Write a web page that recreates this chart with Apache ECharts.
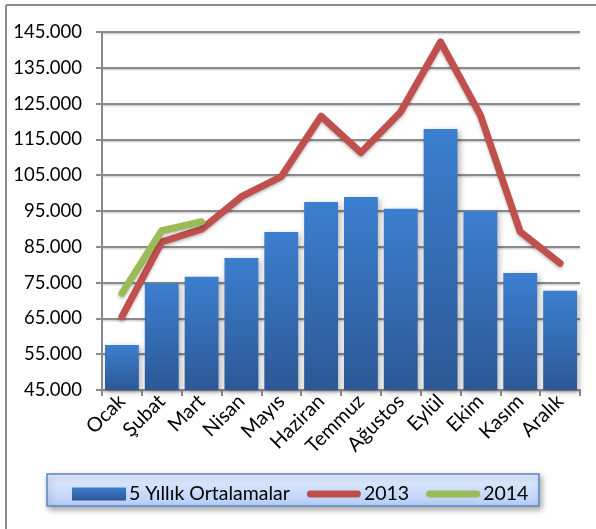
<!DOCTYPE html>
<html>
<head>
<meta charset="utf-8">
<script src="https://cdn.jsdelivr.net/npm/echarts@6/dist/echarts.min.js"></script>
<style>
  html, body { margin: 0; padding: 0; background: #fff; }
  #chart { width: 596px; height: 529px; }
</style>
</head>
<body>
<div id="chart"></div>
<script>
var months = ['Ocak', 'Şubat', 'Mart', 'Nisan', 'Mayıs', 'Haziran', 'Temmuz', 'Ağustos', 'Eylül', 'Ekim', 'Kasım', 'Aralık'];
var avg5 = [57600, 74800, 76600, 81900, 89100, 97500, 98900, 95600, 117900, 95000, 77700, 72700];
var y2013 = [65500, 86400, 89900, 99000, 104600, 121500, 111300, 122700, 142200, 121800, 89200, 80400];
var y2014 = [72000, 89500, 92000];
var yTicks = [45000, 145000, 10000]; // min, max, step

var font = 'Lato, "Open Sans", sans-serif';
// thick rounded bar used as legend icon for the line series
var lineIcon = 'path://M3.5,3L51.5,3A3.5,3.5 0 0 1 51.5,10L3.5,10A3.5,3.5 0 0 1 3.5,3Z';

function fmt(v) {
    // 145000 -> 145.000
    return String(v).replace(/\B(?=(\d{3})+(?!\d))/g, '.');
}

var chart = echarts.init(document.getElementById('chart'));

var option = {
    animation: false,
    textStyle: { fontFamily: font },
    grid: {
        left: 102,
        right: 16,
        top: 32,
        bottom: 139
    },
    graphic: [
        // outer frame (top + left edge)
        { type: 'line', shape: { x1: 6, y1: 5, x2: 596, y2: 5 }, style: { stroke: '#8c8c8c', lineWidth: 2 } },
        { type: 'line', shape: { x1: 6, y1: 5, x2: 6, y2: 529 }, style: { stroke: '#8c8c8c', lineWidth: 2 } },
        // legend box
        {
            type: 'rect',
            z: 1,
            shape: { x: 47, y: 474, width: 492, height: 32 },
            style: {
                fill: new echarts.graphic.LinearGradient(0, 0, 0, 1, [
                    { offset: 0, color: '#e6efff' },
                    { offset: 1, color: '#b4cdf7' }
                ]),
                stroke: '#5b86c5',
                lineWidth: 1.5,
                shadowBlur: 6,
                shadowOffsetX: 2,
                shadowOffsetY: 3,
                shadowColor: 'rgba(0,0,0,0.35)'
            }
        }
    ],
    legend: {
        left: 67,
        top: 479,
        z: 5,
        itemWidth: 54,
        itemHeight: 13,
        itemGap: 17,
        textStyle: { fontSize: 19.5, color: '#000', padding: [0, 0, 0, -2] },
        data: [
            { name: '5 Yıllık Ortalamalar', icon: 'rect' },
            { name: '2013', icon: lineIcon, itemStyle: { color: '#c0504d' } },
            { name: '2014', icon: lineIcon, itemStyle: { color: '#9bbb59' } }
        ]
    },
    xAxis: {
        type: 'category',
        data: months,
        boundaryGap: true,
        axisLine: { lineStyle: { color: '#8a8a8a', width: 2 } },
        axisTick: { show: true, length: 6, lineStyle: { color: '#8a8a8a', width: 2 } },
        axisLabel: {
            rotate: 45,
            fontSize: 20,
            color: '#000',
            margin: 8,
            interval: 0
        }
    },
    yAxis: {
        type: 'value',
        min: yTicks[0],
        max: yTicks[1],
        interval: yTicks[2],
        axisLine: { show: true, lineStyle: { color: '#8a8a8a', width: 2 } },
        axisTick: { show: true, length: 6, lineStyle: { color: '#8a8a8a', width: 2 } },
        axisLabel: {
            fontSize: 18.5,
            color: '#000',
            margin: 20,
            formatter: fmt
        },
        splitLine: {
            lineStyle: {
                color: '#8a8a8a',
                width: 2,
                shadowBlur: 2,
                shadowOffsetY: 1,
                shadowColor: 'rgba(0,0,0,0.25)'
            }
        }
    },
    series: [
        {
            name: '5 Yıllık Ortalamalar',
            type: 'bar',
            barWidth: '85%',
            data: avg5,
            itemStyle: {
                color: new echarts.graphic.LinearGradient(0, 0, 0, 1, [
                    { offset: 0, color: '#3c7fcf' },
                    { offset: 1, color: '#2c5895' }
                ]),
                shadowBlur: 6,
                shadowOffsetX: 2,
                shadowOffsetY: 2,
                shadowColor: 'rgba(0,0,0,0.3)'
            }
        },
        {
            name: '2013',
            type: 'line',
            data: y2013,
            symbol: 'none',
            z: 3,
            itemStyle: { color: '#c0504d' },
            lineStyle: {
                color: '#c0504d',
                width: 7,
                cap: 'round',
                join: 'round',
                shadowBlur: 3,
                shadowOffsetY: 2,
                shadowColor: 'rgba(0,0,0,0.25)'
            }
        },
        {
            name: '2014',
            type: 'line',
            data: y2014,
            symbol: 'none',
            z: 4,
            itemStyle: { color: '#9bbb59' },
            lineStyle: {
                color: '#9bbb59',
                width: 7,
                cap: 'round',
                join: 'round',
                shadowBlur: 3,
                shadowOffsetY: 2,
                shadowColor: 'rgba(0,0,0,0.25)'
            }
        }
    ]
};
chart.setOption(option);
</script>
</body>
</html>
